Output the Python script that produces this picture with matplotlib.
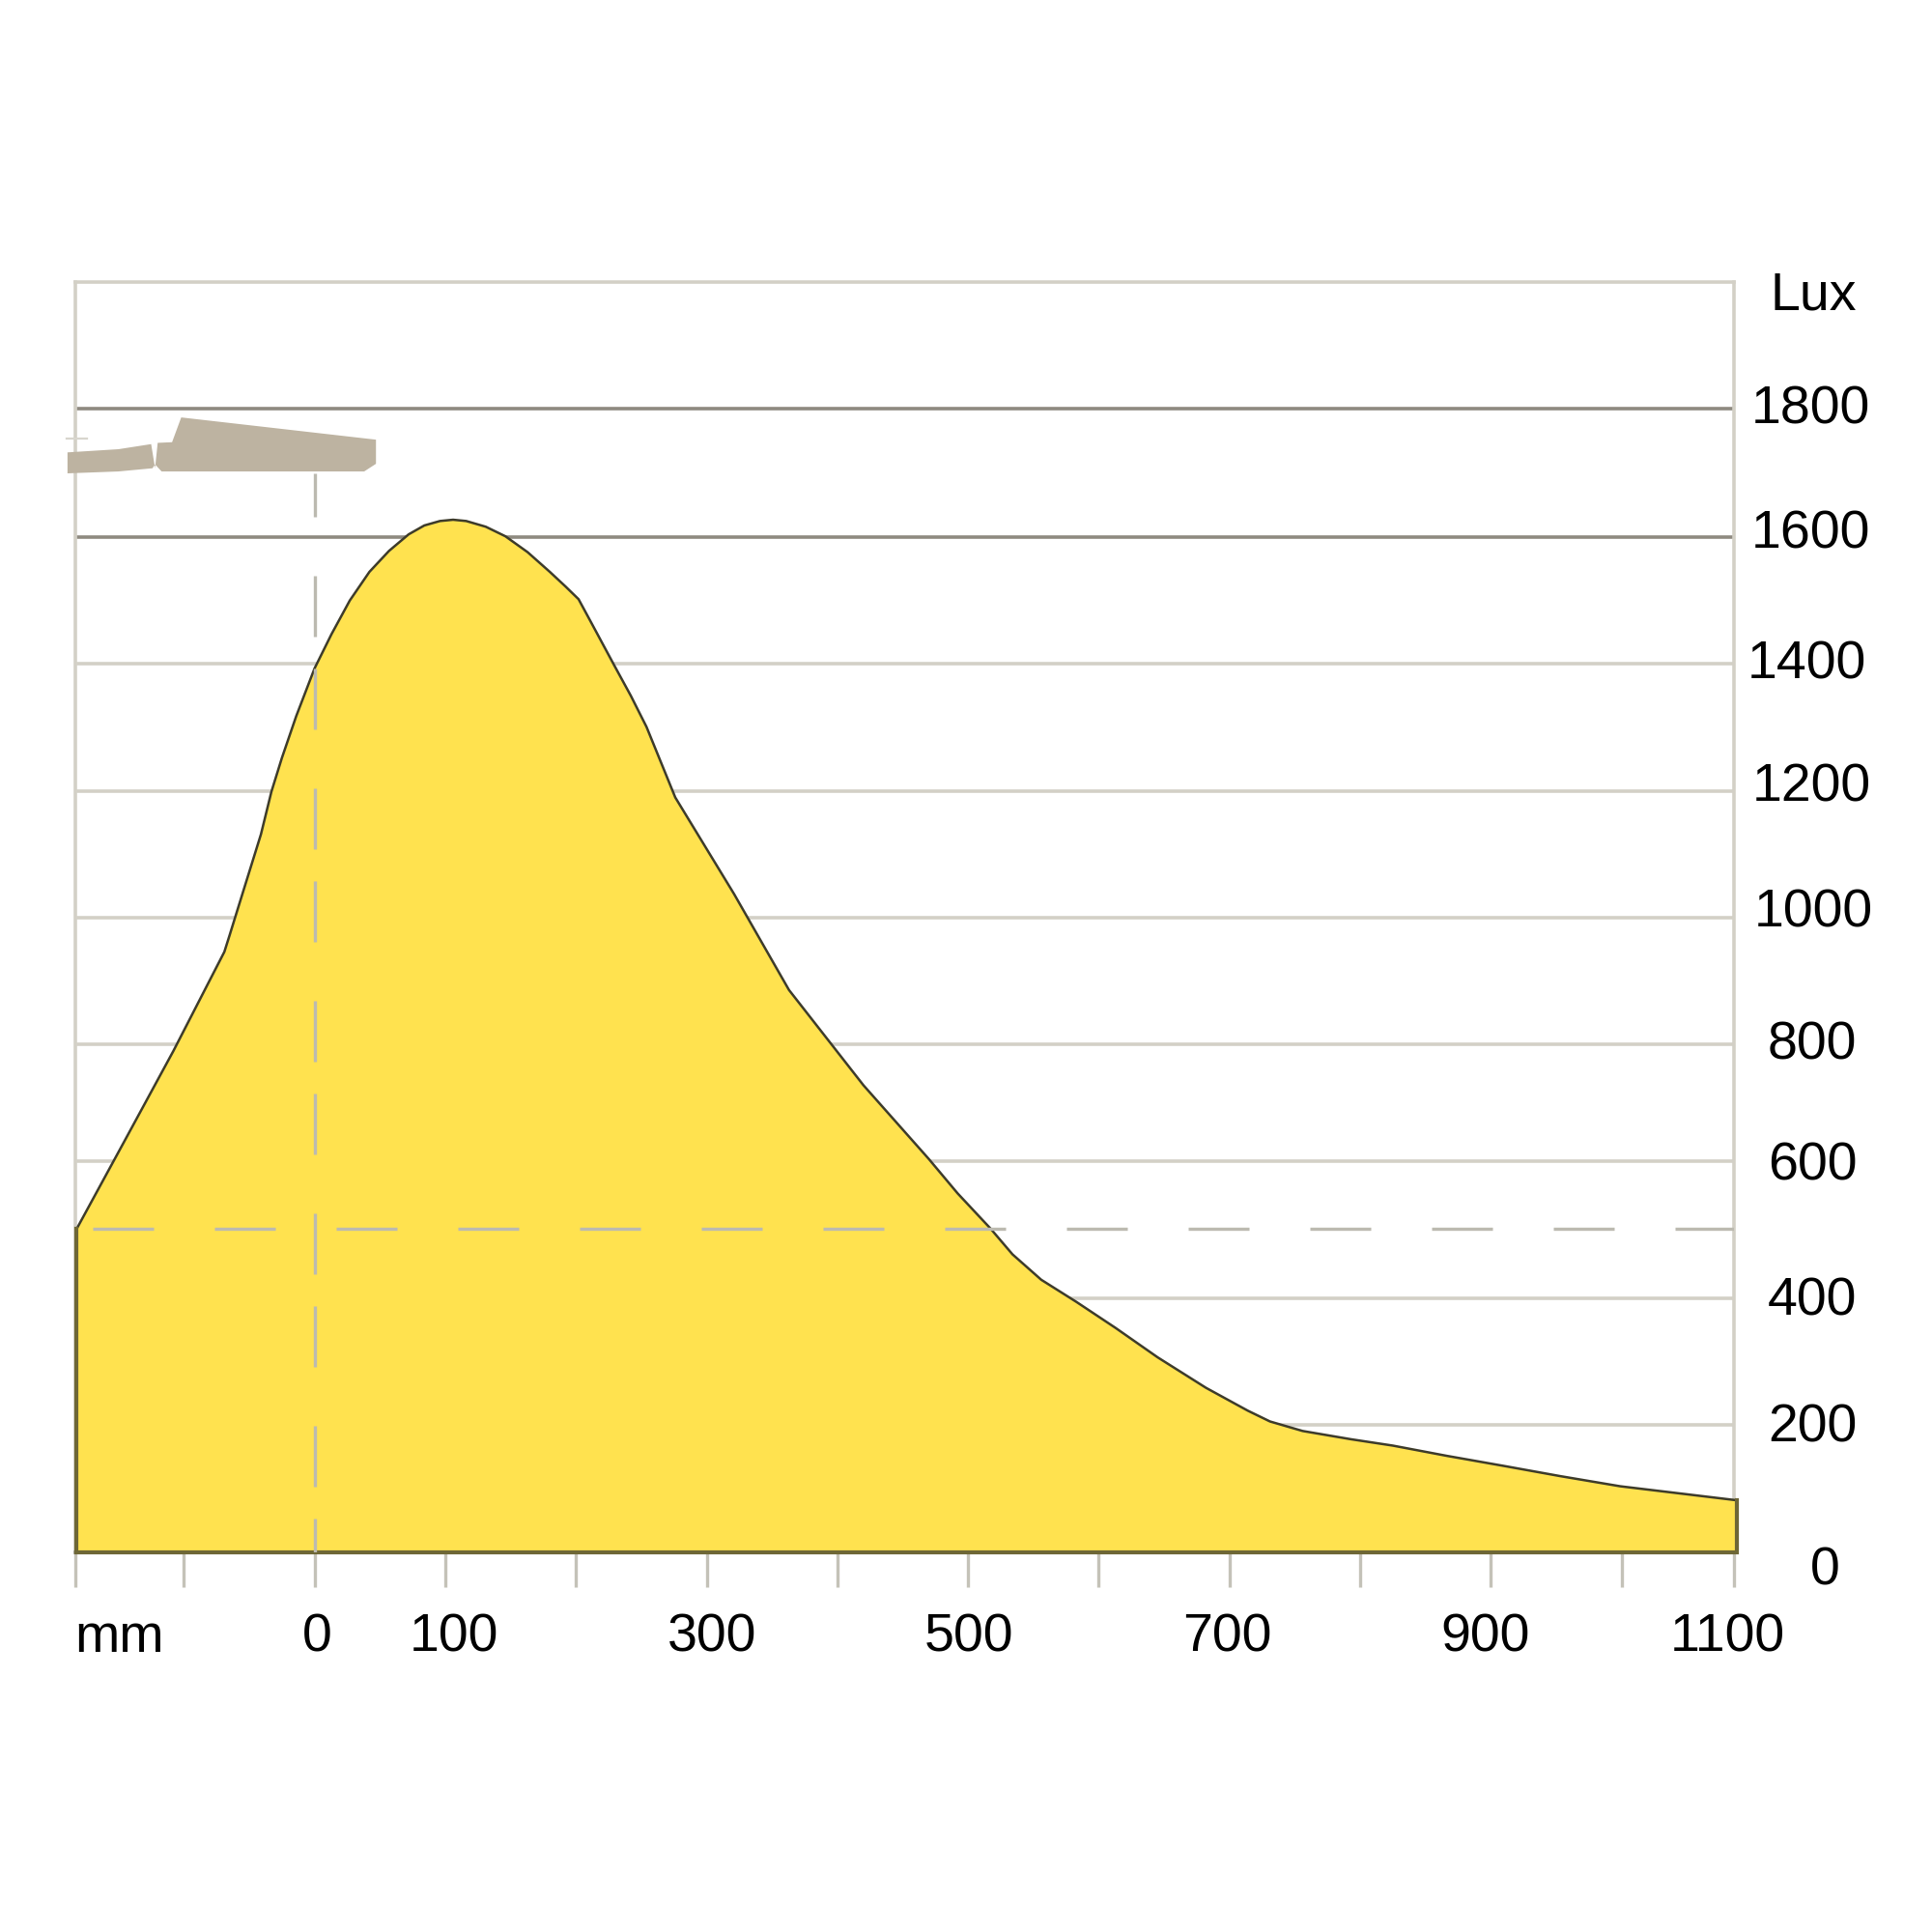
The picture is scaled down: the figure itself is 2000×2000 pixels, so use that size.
import matplotlib
matplotlib.use('Agg')
import matplotlib.pyplot as plt

plt.rcParams['font.family'] = ['Liberation Sans', 'DejaVu Sans']

# illuminance curve
dist_mm = [-182, -146, -108, -69, -65, -54, -41, -33, -25, -14, 0, 13, 27, 42, 57, 72, 84, 96, 106, 116,
           131, 146, 163, 180, 192, 202, 212, 229, 242, 254, 276, 321, 363, 420, 470, 492, 517, 534, 556,
           583, 613, 645, 682, 714, 731, 756, 793, 825, 866, 910, 953, 999, 1088]
lux = [509, 645, 789, 945, 971, 1044, 1130, 1197, 1250, 1316, 1391, 1445, 1498, 1543, 1576, 1602, 1616, 1623, 1625, 1623,
       1614, 1599, 1574, 1543, 1520, 1500, 1462, 1397, 1348, 1299, 1188, 1036, 885, 735, 619, 565, 510, 469, 429,
       394, 353, 307, 259, 223, 206, 191, 178, 168, 152, 136, 120, 104, 82]

# luminaire outline
lamp_x = [-189, -150, -125, -122, -120, -109, -102, 47, 47, 38, -117, -122, -124, -150, -189]
lamp_y = [1731, 1736, 1744, 1706, 1746, 1747, 1786, 1751, 1713, 1701, 1701, 1712, 1706, 1701, 1698]

# gridlines (the 600 line sits a bit high in the original)
grid_dark = [1800, 1597]
grid_light = [1398, 1198, 998, 800, 616, 400, 200]

x_ticks = [-183, -100, 0, 100, 200, 300, 400, 500, 600, 700, 800, 900, 1000, 1086]
y_labels = ['1800', '1600', '1400', '1200', '1000', '800', '600', '400', '200', '0']
x_labels = ['mm', '0', '100', '300', '500', '700', '900', '1100']

FRAME = '#d3d0c6'
TICK = '#c4c2b8'
DASH = '#bcbab0'
DARK_GRID = '#8e8a80'
YELLOW = '#ffe24f'

fig = plt.figure(figsize=(10, 10), dpi=200)
ax = fig.add_axes([78 / 2000, 393 / 2000, (1795 - 78) / 2000, (1607 - 292) / 2000])
ax.set_xlim(-183, 1086)
ax.set_ylim(0, 1999)

for name in ['top', 'left', 'right', 'bottom']:
    ax.spines[name].set_color(FRAME)
    ax.spines[name].set_linewidth(1.3)
    ax.spines[name].set_zorder(1)
ax.spines['bottom'].set_color('#9a988e')

ax.set_xticks(x_ticks)
ax.set_xticklabels([])
ax.set_yticks([])
ax.tick_params(axis='x', length=13, width=1.2, color=TICK)

for g in grid_dark:
    ax.axhline(g, xmin=0.002, color=DARK_GRID, lw=1.3, zorder=1)
for g in grid_light:
    ax.axhline(g, xmin=0.002, color=FRAME, lw=1.3, zorder=1)

# yellow area, thick dull edge left and bottom, thin dark edge on top
xs = [dist_mm[0]] + dist_mm + [dist_mm[-1]]
ys = [0] + lux + [0]
ax.fill(xs, ys, color=YELLOW, lw=0, zorder=2, clip_on=False)
ax.plot(dist_mm, lux, color='#3d3b2a', lw=0.9, zorder=3, clip_on=False)
ax.plot([dist_mm[0], dist_mm[0], dist_mm[-1], dist_mm[-1]], [lux[0], 0, 0, lux[-1]],
        color='#6e6736', lw=1.5, zorder=3, clip_on=False, solid_joinstyle='miter')

# dashed reference lines at x=0 and at the wall value
ax.plot([-170, 1086], [509, 509], color=DASH, lw=1.2, ls=(0, (18.9, 18.9)), zorder=4)
# the vertical one has an uneven gap in the original
ax.plot([0, 0], [1698, 0], color=DASH, lw=1.2, ls=(5.4, (18.9, 18.3, 18.9, 9.9)), zorder=4)

ax.fill(lamp_x, lamp_y, color='#bdb3a1', lw=0, zorder=5, clip_on=False)
ax.plot([-190, -174], [1753, 1753], color='#d8d6ce', lw=0.8, clip_on=False, zorder=5)

# labels are placed one by one, the original spacing is uneven
y_label_pos = [1798, 1602, 1397, 1203, 1005, 797, 608, 394, 196, -29]
y_label_x = [1145, 1145, 1142, 1145, 1147, 1146, 1146, 1146, 1146, 1156]
for lab, xp, yp in zip(y_labels, y_label_x, y_label_pos):
    ax.text(xp, yp, lab, fontsize=20, color='black', ha='center', va='center', clip_on=False)
ax.text(1147, 1977, 'Lux', fontsize=20, color='black', ha='center', va='center', clip_on=False)

x_label_pos = [-149, 2, 107, 304, 501, 698, 896, 1081]
for lab, xp in zip(x_labels, x_label_pos):
    ax.text(xp, -135, lab, fontsize=20, color='black', ha='center', va='center', clip_on=False)

fig.savefig('out.png', dpi=200, facecolor='white')
